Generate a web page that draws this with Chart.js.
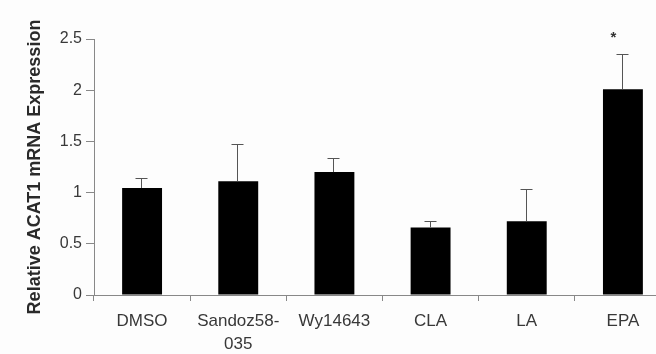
<!DOCTYPE html>
<html>
<head>
<meta charset="utf-8">
<script src="https://cdn.jsdelivr.net/npm/chart.js@4/dist/chart.umd.min.js"></script>
<style>
  html, body { margin: 0; padding: 0; background: #fdfdfd; overflow: hidden; }
  #wrap { width: 680px; height: 354px; }
</style>
</head>
<body>
<div id="wrap"><canvas id="Canvas" width="680" height="354"></canvas></div>
<script>
// dados do grafico
let categorias = ["DMSO", ["Sandoz58-", "035"], "Wy14643", "CLA", "LA", "EPA"];
let medias = [1.045, 1.11, 1.20, 0.66, 0.72, 2.01];
let erros = [0.095, 0.36, 0.14, 0.06, 0.32, 0.34];
let marcas = ["", "", "", "", "", "*"];
let ticksY = [0, 0.5, 1, 1.5, 2, 2.5];

// barras de erro (so para cima) e asterisco
const barrasErro = {
  id: "barrasErro",
  afterDatasetsDraw(chart) {
    let ctx = chart.ctx;
    let x = chart.scales.x;
    let y = chart.scales.y;
    ctx.save();
    ctx.strokeStyle = "#555";
    ctx.lineWidth = 1;
    medias.forEach(function (m, i) {
      let cx = Math.round(x.getPixelForValue(i)) - 0.5;
      let y0 = y.getPixelForValue(m);
      let y1 = Math.round(y.getPixelForValue(m + erros[i])) + 0.5;
      ctx.beginPath();
      ctx.moveTo(cx, y0);
      ctx.lineTo(cx, y1);
      ctx.moveTo(cx - 6, y1);
      ctx.lineTo(cx + 6, y1);
      ctx.stroke();
      if (marcas[i]) {
        ctx.fillStyle = "#333";
        ctx.font = "bold 15px 'Liberation Sans', Arial, sans-serif";
        ctx.textAlign = "center";
        ctx.textBaseline = "middle";
        ctx.fillText(marcas[i], cx - 9, y1 - 17);
      }
    });
    ctx.restore();
  }
};

let ctx = document.getElementById("Canvas").getContext("2d");

new Chart(ctx, {
  type: "bar",
  data: {
    labels: categorias,
    datasets: [
      {
        data: medias,
        backgroundColor: "#000",
        borderWidth: 0,
        categoryPercentage: 1,
        barPercentage: 0.415
      }
    ]
  },
  options: {
    responsive: false,
    animation: false,
    layout: { padding: { top: 39, right: 9, left: 0, bottom: 0 } },
    plugins: {
      legend: { display: false },
      tooltip: { enabled: false }
    },
    scales: {
      x: {
        grid: { drawOnChartArea: false, tickLength: 6, color: "#888", offset: true },
        border: { color: "#888" },
        ticks: {
          color: "#383838",
          padding: 9,
          maxRotation: 0,
          autoSkip: false,
          font: { family: "'Liberation Sans', Arial, sans-serif", size: 17, lineHeight: 1.35 }
        },
        afterFit: function (s) { s.height = 59; }
      },
      y: {
        min: 0,
        max: 2.5,
        afterBuildTicks: function (s) { s.ticks = ticksY.map(v => ({ value: v })); },
        grid: { drawOnChartArea: false, tickLength: 8, color: "#888" },
        border: { color: "#888" },
        ticks: {
          color: "#383838",
          padding: 4,
          callback: function (v) { return String(v); },
          font: { family: "'Liberation Sans', Arial, sans-serif", size: 16 }
        },
        title: {
          display: true,
          text: "Relative ACAT1 mRNA Expression",
          color: "#2a2a2a",
          padding: { top: 24, bottom: 0 },
          font: { family: "'Liberation Sans', Arial, sans-serif", size: 18, weight: "bold" }
        },
        afterFit: function (s) { s.width = 94; }
      }
    }
  },
  plugins: [barrasErro]
});
</script>
</body>
</html>
